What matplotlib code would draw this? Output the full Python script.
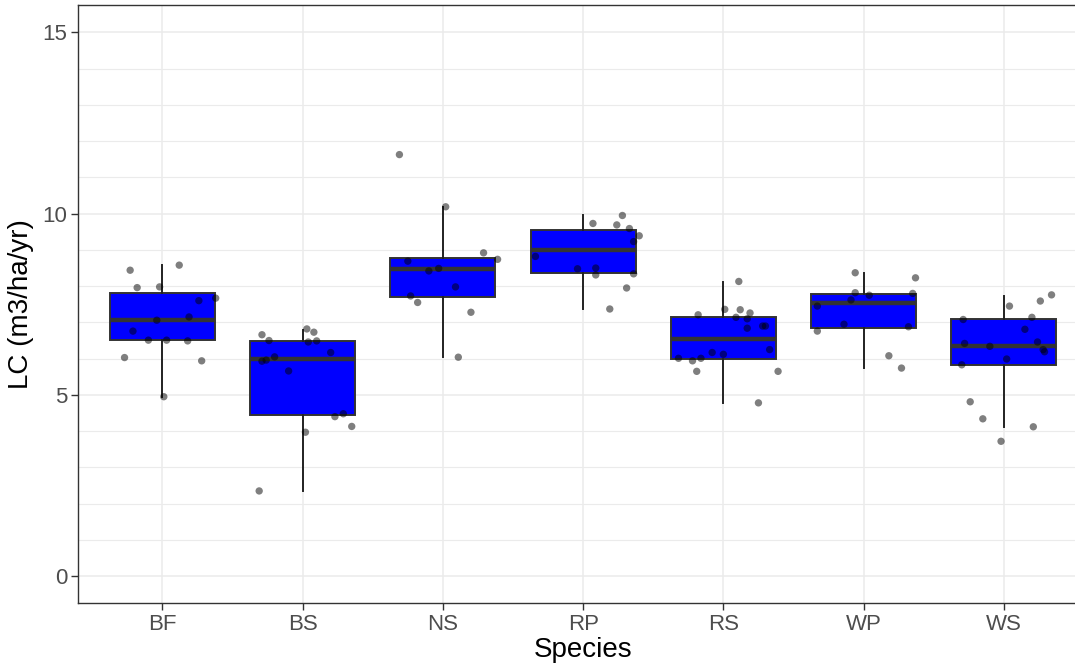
import matplotlib.pyplot as plt

plt.rcParams['font.family'] = ['Liberation Sans', 'DejaVu Sans']

species = ['BF', 'BS', 'NS', 'RP', 'RS', 'WP', 'WS']

# box stats: lower whisker, Q1, median, Q3, upper whisker
whis_lo = [4.95, 2.35, 6.05, 7.38, 4.79, 5.75, 4.12]
q1 = [6.51, 4.45, 7.69, 8.37, 5.98, 6.84, 5.83]
med = [7.06, 5.99, 8.46, 9.01, 6.55, 7.53, 6.34]
q3 = [7.82, 6.49, 8.79, 9.54, 7.14, 7.79, 7.09]
whis_hi = [8.58, 6.80, 10.19, 9.96, 8.11, 8.36, 7.74]

# jittered observations (value, horizontal jitter in category units)
lc_bf = [8.44, 8.58, 7.96, 7.98, 7.60, 7.67, 7.15, 7.06, 6.76, 6.51, 6.51, 6.49, 6.03, 5.94, 4.95]
jit_bf = [-0.23, 0.12, -0.18, -0.02, 0.26, 0.38, 0.19, -0.04, -0.21, -0.10, 0.03, 0.18, -0.27, 0.28, 0.01]
lc_bs = [6.66, 6.50, 6.82, 6.73, 6.46, 6.49, 6.17, 5.93, 5.96, 6.05, 5.66, 4.40, 4.48, 4.13, 3.97, 2.35]
jit_bs = [-0.29, -0.24, 0.03, 0.08, 0.04, 0.10, 0.20, -0.29, -0.26, -0.20, -0.10, 0.23, 0.29, 0.35, 0.02, -0.31]
lc_ns = [11.63, 10.19, 8.92, 8.74, 8.69, 8.49, 8.42, 7.98, 7.73, 7.55, 7.28, 6.04]
jit_ns = [-0.31, 0.02, 0.29, 0.39, -0.25, -0.03, -0.10, 0.09, -0.23, -0.18, 0.20, 0.11]
lc_rp = [9.95, 9.73, 9.69, 9.59, 9.39, 9.23, 8.82, 8.48, 8.50, 8.31, 8.34, 7.95, 7.37]
jit_rp = [0.28, 0.07, 0.24, 0.33, 0.40, 0.36, -0.34, -0.04, 0.09, 0.09, 0.36, 0.31, 0.19]
lc_rs = [8.13, 7.36, 7.35, 7.26, 7.21, 7.14, 7.10, 6.84, 6.90, 6.90, 6.25, 6.17, 6.12, 6.01, 6.01,
         5.94, 5.65, 5.65, 4.78]
jit_rs = [0.11, 0.01, 0.12, 0.19, -0.18, 0.09, 0.17, 0.17, 0.28, 0.30, 0.33, -0.08, 0.00, -0.32, -0.16,
          -0.22, -0.19, 0.39, 0.25]
lc_wp = [8.37, 8.23, 7.82, 7.75, 7.80, 7.62, 7.45, 6.95, 6.88, 6.76, 6.08, 5.74]
jit_wp = [-0.06, 0.37, -0.06, 0.04, 0.35, -0.09, -0.33, -0.14, 0.32, -0.33, 0.18, 0.27]
lc_ws = [7.76, 7.59, 7.45, 7.14, 7.08, 6.81, 6.42, 6.46, 6.34, 6.25, 6.19, 5.99, 5.83, 4.81, 4.34,
         4.12, 3.72]
jit_ws = [0.34, 0.26, 0.04, 0.20, -0.29, 0.15, -0.28, 0.24, -0.10, 0.28, 0.29, 0.02, -0.30, -0.24, -0.15,
          0.21, -0.02]

values = [lc_bf, lc_bs, lc_ns, lc_rp, lc_rs, lc_wp, lc_ws]
jitters = [jit_bf, jit_bs, jit_ns, jit_rp, jit_rs, jit_wp, jit_ws]

fig = plt.figure(figsize=(10.75, 6.67), dpi=100)
# panel runs slightly past the right edge, as in the original crop
ax = fig.add_axes([0.0728, 0.0955, 0.9393, 0.8966])

# ggplot theme_bw style grid
for v in range(0, 16):
    lw = 1.1 if v % 5 == 0 else 0.8
    ax.axhline(v, color='#ebebeb', lw=lw, zorder=0)
for i in range(len(species)):
    ax.axvline(i + 1, color='#ebebeb', lw=1.1, zorder=0)

stats = []
for i, s in enumerate(species):
    stats.append({'label': s, 'whislo': whis_lo[i], 'q1': q1[i], 'med': med[i],
                  'q3': q3[i], 'whishi': whis_hi[i], 'fliers': []})

ax.bxp(stats, positions=range(1, len(species) + 1), widths=0.75, patch_artist=True,
       showfliers=False, showcaps=False,
       boxprops=dict(facecolor='#0000ff', edgecolor='#333333', linewidth=1.4),
       medianprops=dict(color='#333333', linewidth=3.2),
       whiskerprops=dict(color='#222222', linewidth=1.4),
       zorder=2)

for i in range(len(species)):
    xs = [i + 1 + j for j in jitters[i]]
    ax.scatter(xs, values[i], s=28, color='black', alpha=0.5, edgecolors='none', zorder=3)

ax.set_xlim(0.4, 7.6)
ax.set_ylim(-0.75, 15.75)
ax.set_yticks([0, 5, 10, 15])
ax.set_xticks(range(1, len(species) + 1))
ax.set_xticklabels(species)

for side in ax.spines.values():
    side.set_color('#333333')
    side.set_linewidth(1.0)

ax.tick_params(axis='both', colors='#333333', length=5, width=1.0, labelsize=16,
               labelcolor='#4d4d4d', pad=3)

ax.set_xlabel('Species', fontsize=20, color='black', labelpad=1)
ax.set_ylabel('LC (m3/ha/yr)', fontsize=20, color='black', labelpad=6)

fig.savefig('out.png', dpi=100)
